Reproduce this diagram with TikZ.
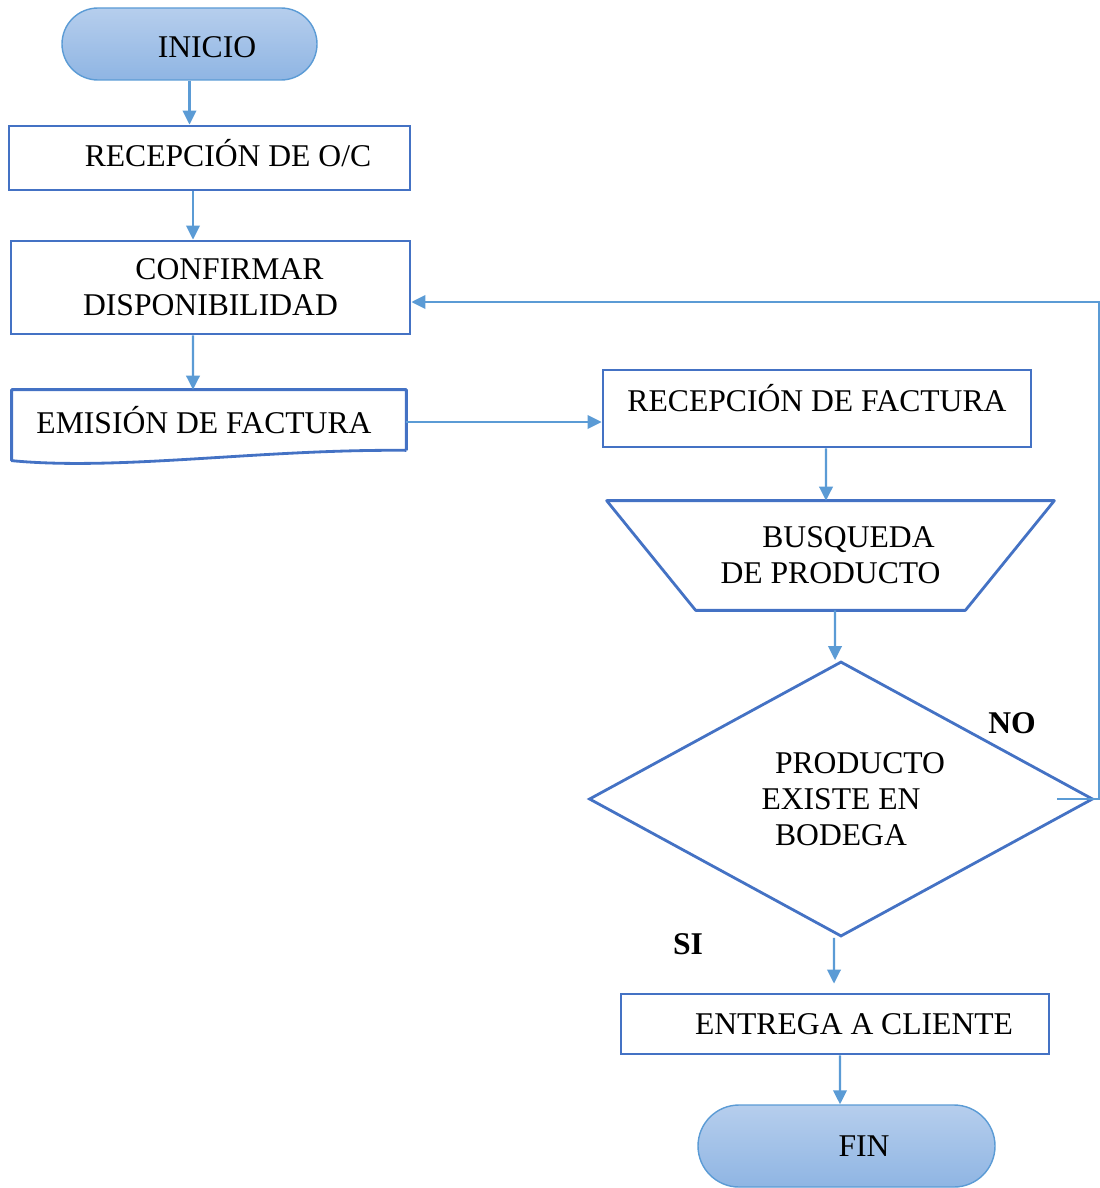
\documentclass[tikz,border=0pt]{standalone}
\usepackage{fontspec}
\setmainfont{Liberation Serif}
\usepackage{xcolor}
\usetikzlibrary{arrows.meta,shapes.geometric,shapes.misc}
\definecolor{linea}{RGB}{91,155,213}
\definecolor{borde}{RGB}{68,114,196}
\definecolor{fondoA}{RGB}{182,206,237}
\definecolor{fondoB}{RGB}{143,181,227}
\tikzset{
  >={Triangle[length=0.28cm,width=0.27cm]},
}
\tikzstyle{every node}=[font=\fontsize{18}{20.5}\selectfont]
\tikzstyle{proceso}=[draw=borde,line width=1.6pt,inner sep=0pt]
\tikzstyle{terminal}=[rounded rectangle,draw=linea,line width=0.8pt,top color=fondoA,bottom color=fondoB,inner sep=0pt]
\tikzstyle{contorno}=[borde,line width=1.6pt,line join=round]
\tikzstyle{flecha}=[linea,line width=1.3pt,->]
\tikzstyle{rotulo}=[font=\fontsize{18}{20.5}\selectfont\bfseries]

\begin{document}
\begin{tikzpicture}
  \useasboundingbox (0,0) rectangle (22,-23.76);
  % columna izquierda
  \node[terminal,minimum width=5.1cm,minimum height=1.44cm,text height=0.54cm] (inicio) at (3.79,-0.88) {\hspace*{0.7cm}INICIO};
  \node[proceso,minimum width=8.02cm,minimum height=1.28cm,text depth=0.2cm] (recoc) at (4.19,-3.16) {\hspace*{0.74cm}RECEPCIÓN DE O/C};
  \node[proceso,minimum width=7.98cm,minimum height=1.86cm,align=center] (confirmar) at (4.21,-5.75) {\hspace*{0.76cm}CONFIRMAR\\DISPONIBILIDAD};
  \node[minimum width=7.88cm,minimum height=1.2cm,inner sep=0pt] (emision) at (4.18,-8.4) {EMISIÓN DE FACTURA\hspace*{0.2cm}};
  \draw[contorno] (emision.south east) |- (emision.north west) -- ++(0,-1.42)
    .. controls (2.4,-9.42) and (5.2,-8.98) .. (emision.south east);
  % columna derecha
  \node[proceso,minimum width=8.56cm,minimum height=1.54cm,text depth=0.44cm] (recfact) at (16.34,-8.17) {RECEPCIÓN DE FACTURA};
  \node[minimum width=8.94cm,minimum height=2.18cm,inner sep=0pt,align=center] (busqueda) at (16.61,-11.11) {\hspace*{0.72cm}BUSQUEDA\\DE PRODUCTO};
  \draw[contorno] (busqueda.north west) -- (busqueda.north east) -- ([xshift=-1.78cm]busqueda.south east)
    -- ([xshift=1.78cm]busqueda.south west) -- cycle;
  \node[diamond,aspect=1.8,draw=borde,line width=1.6pt,minimum width=10.08cm,minimum height=5.5cm,inner sep=0pt,align=center] (existe) at (16.82,-15.98) {\hspace*{0.76cm}PRODUCTO\\EXISTE EN\\BODEGA};
  \node[proceso,minimum width=8.56cm,minimum height=1.2cm] (entrega) at (16.7,-20.48) {\hspace*{0.76cm}ENTREGA A CLIENTE};
  \node[terminal,minimum width=5.94cm,minimum height=1.64cm] (fin) at (16.93,-22.92) {\hspace*{0.7cm}FIN};
  \node[rotulo] (no) at (20.24,-14.46) {NO};
  \node[rotulo] (si) at (13.76,-18.88) {SI};
  % conectores
  \draw[flecha] (inicio.south) -- (inicio.south |- recoc.north);
  \draw[flecha] ([xshift=-0.33cm]recoc.south) -- ([xshift=-0.35cm]confirmar.north);
  \draw[flecha] ([xshift=-0.35cm]confirmar.south) -- ([xshift=-0.32cm]emision.north);
  \draw[flecha] ([yshift=-0.04cm]emision.east) -- ([yshift=-0.04cm]emision.east -| recfact.west);
  \draw[flecha] ([xshift=0.18cm]recfact.south) -- ([xshift=-0.09cm]busqueda.north);
  \draw[flecha] ([xshift=0.09cm]busqueda.south) -- ([xshift=-0.12cm]existe.north);
  \draw[flecha,shorten >=0.18cm] ([xshift=-0.14cm]existe.south) -- ([xshift=-0.02cm]entrega.north);
  \draw[flecha] ([xshift=0.1cm]entrega.south) -- ([xshift=-0.13cm]fin.north);
  \draw[flecha] ([xshift=-0.74cm]existe.east) -- ++(0.84,0) |- ([yshift=-0.29cm]confirmar.east);
\end{tikzpicture}
\end{document}
